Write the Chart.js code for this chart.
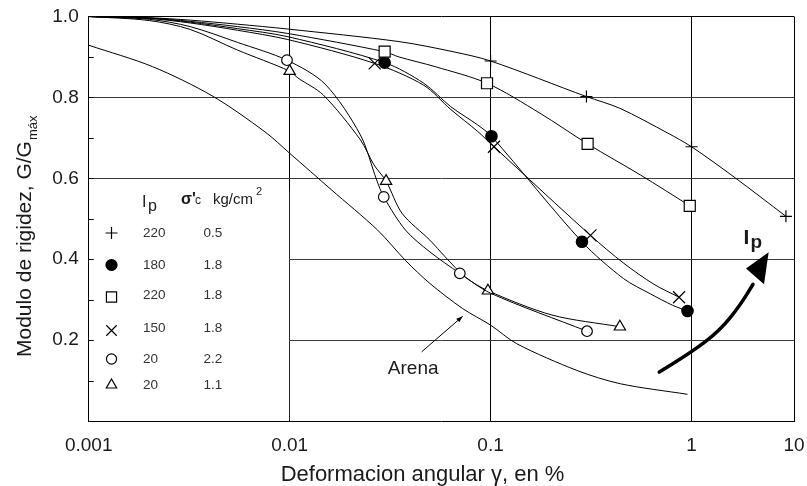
<!DOCTYPE html>
<html lang="es">
<head>
<meta charset="UTF-8">
<title>Modulo de rigidez vs deformacion angular</title>
<script src="https://cdn.jsdelivr.net/npm/chart.js"></script>
<style>
  html, body { margin: 0; padding: 0; background: #fff; }
</style>
</head>
<body>
<canvas id="chart" width="807" height="486"></canvas>
<script>
// --- valores ---
// Ip = 220, s'c = 0.5 (+)
const plusX  = [0.001, 0.002, 0.0032, 0.0055, 0.0098, 0.035, 0.065, 0.1, 0.3, 0.44, 0.76, 1.0, 1.63, 2.95];
const plusY  = [1.0, 0.997, 0.991, 0.981, 0.969, 0.938, 0.913, 0.89, 0.802, 0.773, 0.712, 0.678, 0.603, 0.506];
const plusM  = [0, 0, 0, 0, 0, 0, 0, 1, 1, 0, 0, 1, 0, 1];
// Ip = 180, s'c = 1.8 (punto lleno)
const dotX   = [0.001, 0.002, 0.0032, 0.0055, 0.0098, 0.0297, 0.0465, 0.0634, 0.0862, 0.101, 0.285, 0.459, 0.626, 0.806, 0.955];
const dotY   = [1.0, 0.996, 0.986, 0.970, 0.950, 0.886, 0.835, 0.777, 0.732, 0.704, 0.443, 0.352, 0.314, 0.286, 0.272];
const dotM   = [0, 0, 0, 0, 0, 1, 0, 0, 0, 1, 1, 0, 0, 0, 1];
// Ip = 220, s'c = 1.8 (cuadrado)
const sqX    = [0.001, 0.002, 0.0032, 0.0055, 0.0098, 0.0297, 0.035, 0.053, 0.096, 0.176, 0.304, 0.558, 0.98];
const sqY    = [1.0, 0.996, 0.988, 0.975, 0.958, 0.913, 0.900, 0.876, 0.835, 0.761, 0.685, 0.608, 0.532];
const sqM    = [0, 0, 0, 0, 0, 1, 0, 0, 1, 0, 1, 0, 1];
// Ip = 150, s'c = 1.8 (x)
const xxX    = [0.001, 0.002, 0.0032, 0.0055, 0.0098, 0.0265, 0.0465, 0.0634, 0.0862, 0.104, 0.314, 0.46, 0.65, 0.867];
const xxY    = [1.0, 0.995, 0.984, 0.966, 0.943, 0.884, 0.830, 0.770, 0.716, 0.678, 0.459, 0.390, 0.338, 0.306];
const xxM    = [0, 0, 0, 0, 0, 1, 0, 0, 0, 1, 1, 0, 0, 1];
// Ip = 20, s'c = 2.2 (circulo)
const ciX    = [0.001, 0.002, 0.0032, 0.0055, 0.0097, 0.015, 0.0225, 0.0271, 0.0294, 0.0377, 0.0499, 0.0703, 0.1, 0.302];
const ciY    = [1.0, 0.993, 0.975, 0.936, 0.892, 0.833, 0.707, 0.596, 0.554, 0.472, 0.418, 0.365, 0.316, 0.222];
const ciM    = [0, 0, 0, 0, 1, 0, 0, 0, 1, 0, 0, 1, 0, 1];
// Ip = 20, s'c = 1.1 (triangulo)
const trX    = [0.001, 0.002, 0.0032, 0.0055, 0.01, 0.011, 0.0147, 0.0225, 0.0263, 0.0302, 0.0363, 0.0499, 0.0594, 0.0748, 0.097, 0.202, 0.44];
const trY    = [1.0, 0.990, 0.968, 0.917, 0.865, 0.848, 0.806, 0.695, 0.633, 0.593, 0.513, 0.447, 0.406, 0.356, 0.322, 0.262, 0.233];
const trM    = [0, 0, 0, 0, 1, 0, 0, 0, 0, 1, 0, 0, 0, 0, 1, 0, 1];
// Arena
const arX    = [0.001, 0.00208, 0.00411, 0.00753, 0.01, 0.0161, 0.0274, 0.0377, 0.0499, 0.0726, 0.1, 0.135, 0.269, 0.443, 0.955];
const arY    = [0.929, 0.876, 0.804, 0.715, 0.662, 0.572, 0.472, 0.397, 0.340, 0.278, 0.237, 0.191, 0.125, 0.092, 0.066];

// leyenda
const ipVals    = ['220', '180', '220', '150', '20', '20'];
const sigmaVals = ['0.5', '1.8', '1.8', '1.8', '2.2', '1.1'];

// ejes
const X_MAX = Math.pow(10, 0.51);   // el ultimo decenio de la figura esta recortado
const xTickVals   = [0.001, 0.01, 0.1, 1, X_MAX];
const xTickLabels = ['0.001', '0.01', '0.1', '1', '10'];
const yTickVals   = [0.2, 0.4, 0.6, 0.8, 1.0];
const yTickLabels = ['0.2', '0.4', '0.6', '0.8', '1.0'];
const xTitle = 'Deformacion angular γ, en %';
const yTitle = 'Modulo de rigidez, G/G';
const yTitleSub = 'máx';

// anotaciones (en coordenadas de datos)
const arenaLabel = {x: 0.0412, y: 0.128};
const arenaArrow = [[0.0454, 0.171], [0.0727, 0.259]];
const ipArrow    = [[0.691, 0.121], [0.983, 0.167], [1.386, 0.224], [1.743, 0.286], [2.023, 0.338]];
const ipHead     = [[2.42, 0.417], [1.867, 0.377], [2.295, 0.338]];
const ipLabel    = {x: 1.88, y: 0.47};

const FONT = "'Liberation Sans', Arial, sans-serif";
const INK = '#1a1a1a';

function pts(xs, ys) {
    return xs.map((x, i) => ({x: x, y: ys[i]}));
}

function series(xs, ys, marks, style, r, fill) {
    return {
        data: pts(xs, ys),
        borderColor: '#000',
        borderWidth: 1,
        tension: 0.3,
        pointStyle: style,
        pointRadius: marks.map(m => m ? r : 0),
        pointBorderWidth: 1.2,
        pointBorderColor: '#000',
        pointBackgroundColor: fill
    };
}

const markerStyles = [
    ['cross', 6.5, '#000'],
    ['circle', 6, '#000'],
    ['rect', 7.8, '#fff'],
    ['crossRot', 8, '#000'],
    ['circle', 5.5, '#fff'],
    ['triangle', 6.5, '#fff']
];

function drawMarker(ctx, style, x, y, r, fill) {
    ctx.save();
    ctx.strokeStyle = '#000';
    ctx.lineWidth = 1.2;
    ctx.beginPath();
    if (style === 'cross') {
        ctx.moveTo(x - r, y); ctx.lineTo(x + r, y);
        ctx.moveTo(x, y - r); ctx.lineTo(x, y + r);
        ctx.stroke(); ctx.restore(); return;
    }
    if (style === 'crossRot') {
        const d = r * Math.SQRT1_2;
        ctx.moveTo(x - d, y - d); ctx.lineTo(x + d, y + d);
        ctx.moveTo(x - d, y + d); ctx.lineTo(x + d, y - d);
        ctx.stroke(); ctx.restore(); return;
    }
    if (style === 'circle') {
        ctx.arc(x, y, r, 0, Math.PI * 2);
    } else if (style === 'rect') {
        const s = r * Math.SQRT1_2;
        ctx.rect(x - s, y - s, 2 * s, 2 * s);
    } else if (style === 'triangle') {
        let a = 0;
        ctx.moveTo(x + Math.sin(a) * r, y - Math.cos(a) * r);
        a += Math.PI * 2 / 3;
        ctx.lineTo(x + Math.sin(a) * r, y - Math.cos(a) * r);
        a += Math.PI * 2 / 3;
        ctx.lineTo(x + Math.sin(a) * r, y - Math.cos(a) * r);
        ctx.closePath();
    }
    ctx.fillStyle = fill;
    ctx.fill();
    ctx.stroke();
    ctx.restore();
}

const decor = {
    id: 'decor',
    beforeDatasetsDraw(chart) {
        const {ctx, chartArea: a, scales: {x, y}} = chart;
        // zona de la leyenda sin reticula
        const x01 = x.getPixelForValue(0.01);
        const yTop = y.getPixelForValue(0.57);
        ctx.save();
        ctx.fillStyle = '#fff';
        ctx.fillRect(a.left + 1, yTop, x01 - a.left - 1.5, a.bottom - yTop - 1);
        // marcas menores hacia adentro
        ctx.strokeStyle = '#000';
        ctx.lineWidth = 1;
        for (let k = 1; k < 10; k++) {
            const py = Math.round(y.getPixelForValue(k / 10)) + 0.5;
            ctx.beginPath();
            ctx.moveTo(a.left, py);
            ctx.lineTo(a.left + 5, py);
            ctx.stroke();
        }
        ctx.restore();
    },
    afterDatasetsDraw(chart) {
        const {ctx, scales: {x, y}} = chart;
        const P = p => [x.getPixelForValue(p[0]), y.getPixelForValue(p[1])];
        ctx.save();
        ctx.fillStyle = INK;

        // leyenda
        ctx.textBaseline = 'alphabetic';
        ctx.textAlign = 'left';
        ctx.font = '16px ' + FONT;
        ctx.fillText('I', 142, 207);
        ctx.fillText('p', 148, 210.5);
        ctx.font = 'bold 16px ' + FONT;
        ctx.fillText('σ\'', 181, 203.5);
        ctx.font = '12px ' + FONT;
        ctx.fillText('c', 195, 203.5);
        ctx.font = '15px ' + FONT;
        ctx.fillText('kg/cm', 213, 203.5);
        ctx.font = '11px ' + FONT;
        ctx.fillText('2', 256, 195);

        const rowY = [233, 265, 295, 328, 359, 385];
        ctx.font = '13.5px ' + FONT;
        ctx.textBaseline = 'middle';
        ctx.fillStyle = '#333';
        for (let i = 0; i < ipVals.length; i++) {
            const st = markerStyles[i];
            const my = i === 2 ? rowY[i] + 2 : (i === 3 ? rowY[i] + 2.5 : rowY[i]);
            drawMarker(ctx, st[0], 111.5, my, st[1] * 0.92, st[2]);
            ctx.fillText(ipVals[i], 143, rowY[i]);
            ctx.fillText(sigmaVals[i], 203.5, rowY[i]);
        }

        // Arena
        ctx.fillStyle = INK;
        ctx.font = '19px ' + FONT;
        ctx.textAlign = 'center';
        const al = P([arenaLabel.x, arenaLabel.y]);
        ctx.fillText('Arena', al[0], al[1]);
        const a0 = P(arenaArrow[0]), a1 = P(arenaArrow[1]);
        ctx.strokeStyle = '#000';
        ctx.lineWidth = 1;
        ctx.beginPath();
        ctx.moveTo(a0[0], a0[1]);
        ctx.lineTo(a1[0], a1[1]);
        ctx.stroke();
        const ang = Math.atan2(a1[1] - a0[1], a1[0] - a0[0]);
        ctx.beginPath();
        ctx.moveTo(a1[0], a1[1]);
        ctx.lineTo(a1[0] - 7 * Math.cos(ang - 0.35), a1[1] - 7 * Math.sin(ang - 0.35));
        ctx.lineTo(a1[0] - 7 * Math.cos(ang + 0.35), a1[1] - 7 * Math.sin(ang + 0.35));
        ctx.closePath();
        ctx.fillStyle = '#000';
        ctx.fill();

        // flecha Ip
        const ap = ipArrow.map(P);
        ctx.lineWidth = 3.5;
        ctx.lineCap = 'round';
        ctx.beginPath();
        ctx.moveTo(ap[0][0], ap[0][1]);
        for (let i = 1; i < ap.length - 1; i++) {
            const mx = (ap[i][0] + ap[i + 1][0]) / 2, my = (ap[i][1] + ap[i + 1][1]) / 2;
            ctx.quadraticCurveTo(ap[i][0], ap[i][1], mx, my);
        }
        ctx.lineTo(ap[ap.length - 1][0], ap[ap.length - 1][1]);
        ctx.stroke();
        const hp = ipHead.map(P);
        ctx.beginPath();
        ctx.moveTo(hp[0][0], hp[0][1]);
        ctx.lineTo(hp[1][0], hp[1][1]);
        ctx.lineTo(hp[2][0], hp[2][1]);
        ctx.closePath();
        ctx.fill();

        const il = P([ipLabel.x, ipLabel.y]);
        ctx.textAlign = 'left';
        ctx.textBaseline = 'alphabetic';
        ctx.fillStyle = INK;
        ctx.font = 'bold 21px ' + FONT;
        ctx.fillText('I', il[0] - 3, il[1] + 13);
        ctx.font = 'bold 19px ' + FONT;
        ctx.fillText('p', il[0] + 4, il[1] + 17);

        // titulo del eje x
        ctx.font = '22px ' + FONT;
        ctx.textAlign = 'center';
        ctx.textBaseline = 'middle';
        ctx.fillText(xTitle, 422.5, 475);

        // titulo del eje y con subindice
        ctx.textAlign = 'left';
        ctx.textBaseline = 'alphabetic';
        ctx.translate(31, 357);
        ctx.rotate(-Math.PI / 2);
        ctx.font = '21px ' + FONT;
        ctx.fillText(yTitle, 0, 0);
        const w = ctx.measureText(yTitle).width;
        ctx.font = '13px ' + FONT;
        ctx.fillText(yTitleSub, w + 1, 6);
        ctx.restore();
    }
};

const ctx = document.getElementById('chart').getContext('2d');
new Chart(ctx, {
    type: 'line',
    data: {
        datasets: [
            {data: pts(arX, arY), borderColor: '#000', borderWidth: 1, tension: 0.3, pointRadius: 0},
            series(plusX, plusY, plusM, 'cross', 6, '#000'),
            series(sqX, sqY, sqM, 'rect', 7.8, '#fff'),
            series(xxX, xxY, xxM, 'crossRot', 8.5, '#000'),
            series(dotX, dotY, dotM, 'circle', 5.7, '#000'),
            series(ciX, ciY, ciM, 'circle', 5.3, '#fff'),
            series(trX, trY, trM, 'triangle', 6.5, '#fff')
        ]
    },
    options: {
        responsive: false,
        animation: false,
        devicePixelRatio: 1,
        events: [],
        layout: {padding: {top: 16.5, right: 13, bottom: 0, left: 0}},
        plugins: {legend: {display: false}, tooltip: {enabled: false}},
        scales: {
            x: {
                type: 'logarithmic',
                min: 0.001,
                max: X_MAX,
                afterBuildTicks: s => { s.ticks = xTickVals.map(v => ({value: v})); },
                afterFit: s => { s.height = 65; s.paddingLeft = 0; s.paddingRight = 0; },
                ticks: {
                    autoSkip: false,
                    maxRotation: 0,
                    padding: 13,
                    color: INK,
                    font: {family: FONT, size: 19},
                    callback: (v, i) => xTickLabels[i]
                },
                grid: {color: '#000', lineWidth: 1, drawTicks: false},
                border: {color: '#000', width: 1}
            },
            y: {
                type: 'linear',
                min: 0,
                max: 1,
                afterFit: s => { s.width = 88.7; s.paddingTop = 0; s.paddingBottom = 0; },
                ticks: {
                    stepSize: 0.1,
                    padding: 10,
                    color: INK,
                    font: {family: FONT, size: 19},
                    callback: v => {
                        const i = yTickVals.findIndex(t => Math.abs(t - v) < 1e-6);
                        return i >= 0 ? yTickLabels[i] : '';
                    }
                },
                grid: {
                    drawTicks: false,
                    lineWidth: 1,
                    color: c => {
                        const v = c.tick ? c.tick.value : 0;
                        if (Math.abs(v - 1) < 1e-6) return '#000';
                        const k = Math.round(v * 10);
                        return (k > 0 && k % 2 === 0) ? '#3a3a3a' : 'rgba(0,0,0,0)';
                    }
                },
                border: {color: '#000', width: 1}
            }
        }
    },
    plugins: [decor]
});
</script>
</body>
</html>
